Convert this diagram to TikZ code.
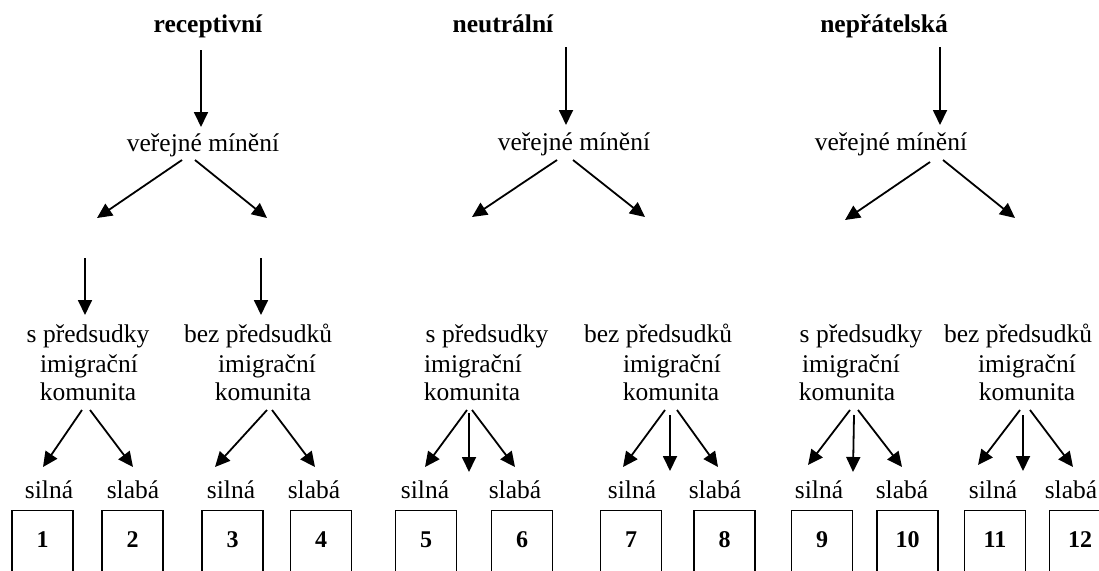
\documentclass[tikz,border=0pt]{standalone}
\usepackage{fontspec}
\setmainfont{Liberation Serif}
\usetikzlibrary{arrows.meta}
\begin{document}
\begin{tikzpicture}[x=1pt,y=-1pt,
  txt/.style={inner sep=0pt, anchor=base, font=\fontsize{25.5}{29}\selectfont},
  ttl/.style={inner sep=0pt, anchor=base, font=\fontsize{25.5}{29}\selectfont\bfseries},
  arr/.style={line width=1.8pt, -{Triangle[length=15pt,width=14pt]}},
  numbox/.style={draw, line width=1.3pt, anchor=north, minimum width=61pt, inner ysep=0pt,
    text height=37pt, text depth=50pt, font=\fontsize{24}{28}\selectfont\bfseries}]
\useasboundingbox (0,0) rectangle (1099,570);
\clip (0,0) rectangle (1099,570);

% titles
\node[ttl] (t1) at (208,32) {receptivní};
\node[ttl] (t2) at (503,32) {neutrální};
\node[ttl] (t3) at (884,32) {nepřátelská};

% public opinion
\node[txt] (vm1) at (203,151) {veřejné mínění};
\node[txt] (vm2) at (574,150) {veřejné mínění};
\node[txt] (vm3) at (891,150) {veřejné mínění};

\draw[arr] ([shift={(-7,18)}]t1.base) -- ([shift={(-2,-24)}]vm1.base);
\draw[arr] ([shift={(63,15)}]t2.base) -- ([shift={(-8,-25)}]vm2.base);
\draw[arr] ([shift={(56,15)}]t3.base) -- ([shift={(49,-25)}]vm3.base);

% free ends of diagonal arrows
\coordinate (c1L) at (97,218);
\coordinate (c1R) at (267,218);
\coordinate (c2L) at (472,217);
\coordinate (c2R) at (645,217);
\coordinate (c3L) at (845,220);
\coordinate (c3R) at (1015,218);

\draw[arr] ([shift={(-21,9)}]vm1.base) -- (c1L);
\draw[arr] ([shift={(-8,9)}]vm1.base) -- (c1R);
\draw[arr] ([shift={(-17,10)}]vm2.base) -- (c2L);
\draw[arr] ([shift={(-1,10)}]vm2.base) -- (c2R);
\draw[arr] ([shift={(39,12)}]vm3.base) -- (c3L);
\draw[arr] ([shift={(52,10)}]vm3.base) -- (c3R);

% community blocks
\node[txt] (g1s1) at (88,342) {s předsudky};
\node[txt] (g1s2) at (89,372) {imigrační};
\node[txt] (g1s3) at (88,400) {komunita};
\node[txt] (g1b1) at (258,342) {bez předsudků};
\node[txt] (g1b2) at (267,372) {imigrační};
\node[txt] (g1b3) at (263,400) {komunita};

\node[txt] (g2s1) at (487,342) {s předsudky};
\node[txt] (g2s2) at (473,372) {imigrační};
\node[txt] (g2s3) at (472,400) {komunita};
\node[txt] (g2b1) at (658,342) {bez předsudků};
\node[txt] (g2b2) at (672,372) {imigrační};
\node[txt] (g2b3) at (671,400) {komunita};

\node[txt] (g3s1) at (861,342) {s předsudky};
\node[txt] (g3s2) at (851,372) {imigrační};
\node[txt] (g3s3) at (847,400) {komunita};
\node[txt] (g3b1) at (1018,342) {bez předsudků};
\node[txt] (g3b2) at (1027,372) {imigrační};
\node[txt] (g3b3) at (1027,400) {komunita};

% group 1 vertical arrows
\coordinate (v1) at (85,258);
\coordinate (v2) at (261,258);
\draw[arr] (v1) -- ([shift={(-3,-27)}]g1s1.base);
\draw[arr] (v2) -- ([shift={(3,-27)}]g1b1.base);

% strong / weak labels
\node[txt] (s1) at (49,498) {silná};
\node[txt] (w1) at (133,498) {slabá};
\node[txt] (s2) at (231,498) {silná};
\node[txt] (w2) at (314,498) {slabá};
\node[txt] (s3) at (425,498) {silná};
\node[txt] (w3) at (515,498) {slabá};
\node[txt] (s4) at (632,498) {silná};
\node[txt] (w4) at (715,498) {slabá};
\node[txt] (s5) at (819,498) {silná};
\node[txt] (w5) at (902,498) {slabá};
\node[txt] (s6) at (993,498) {silná};
\node[txt] (w6) at (1071,498) {slabá};

% middle arrow free ends
\coordinate (m2s) at (469,472);
\coordinate (m2b) at (670,471);
\coordinate (m3s) at (853,472);
\coordinate (m3b) at (1023,471);

% bottom arrows
\draw[arr] ([shift={(-6,10)}]g1s3.base) -- ([shift={(-6,-31)}]s1.base);
\draw[arr] ([shift={(2,10)}]g1s3.base) -- ([shift={(0,-31)}]w1.base);
\draw[arr] ([shift={(4,10)}]g1b3.base) -- ([shift={(-16,-31)}]s2.base);
\draw[arr] ([shift={(9,10)}]g1b3.base) -- ([shift={(1,-31)}]w2.base);

\draw[arr] ([shift={(-5,10)}]g2s3.base) -- ([shift={(0,-31)}]s3.base);
\draw[arr] ([shift={(-3,13)}]g2s3.base) -- (m2s);
\draw[arr] ([shift={(0,10)}]g2s3.base) -- ([shift={(0,-31)}]w3.base);
\draw[arr] ([shift={(-6,10)}]g2b3.base) -- ([shift={(-9,-31)}]s4.base);
\draw[arr] ([shift={(-1,15)}]g2b3.base) -- (m2b);
\draw[arr] ([shift={(6,10)}]g2b3.base) -- ([shift={(3,-31)}]w4.base);

\draw[arr] ([shift={(3,10)}]g3s3.base) -- ([shift={(-11,-33)}]s5.base);
\draw[arr] ([shift={(7,15)}]g3s3.base) -- (m3s);
\draw[arr] ([shift={(11,10)}]g3s3.base) -- ([shift={(0,-31)}]w5.base);
\draw[arr] ([shift={(-7,10)}]g3b3.base) -- ([shift={(-15,-33)}]s6.base);
\draw[arr] ([shift={(-4,15)}]g3b3.base) -- (m3b);
\draw[arr] ([shift={(3,10)}]g3b3.base) -- ([shift={(2,-31)}]w6.base);

% boxes
\node[numbox] (b1) at (42.5,510) {1};
\node[numbox] (b2) at (132.5,510) {2};
\node[numbox] (b3) at (232.5,510) {3};
\node[numbox] (b4) at (321,510) {4};
\node[numbox] (b5) at (426,510) {5};
\node[numbox] (b6) at (522,510) {6};
\node[numbox] (b7) at (631,510) {7};
\node[numbox] (b8) at (724.5,510) {8};
\node[numbox] (b9) at (822,510) {9};
\node[numbox] (b10) at (907.5,510) {10};
\node[numbox] (b11) at (995,510) {11};
\node[numbox] (b12) at (1080,510) {12};
\end{tikzpicture}
\end{document}
